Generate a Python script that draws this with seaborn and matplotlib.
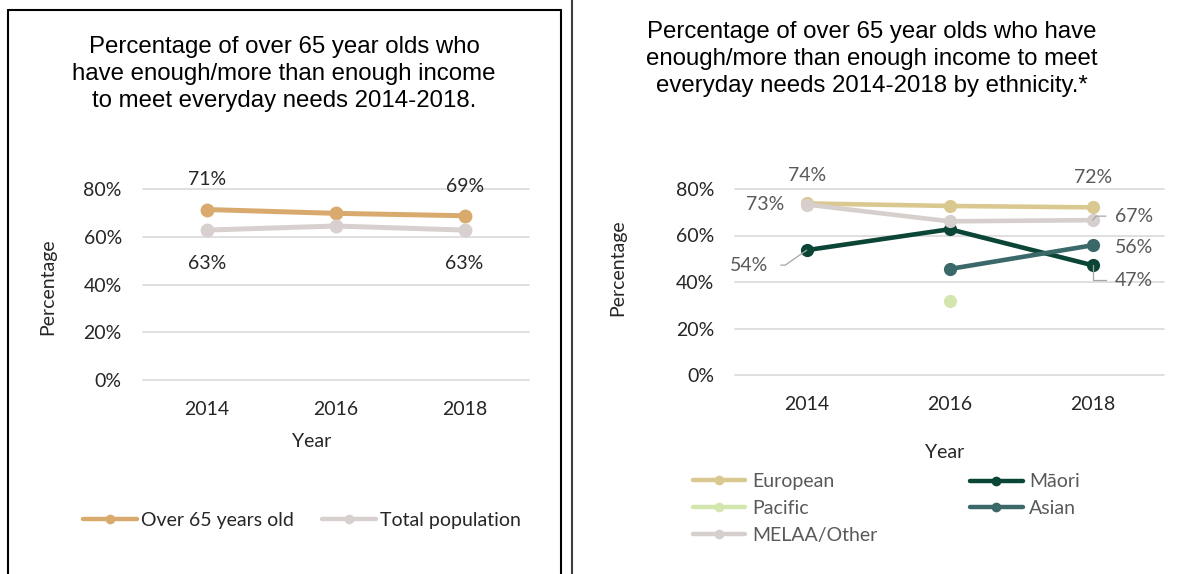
import numpy as np
import pandas as pd
import matplotlib
matplotlib.use("Agg")
import matplotlib.pyplot as plt
import seaborn as sns
from matplotlib.lines import Line2D

# ---------------- data ----------------
years = [2014, 2016, 2018]
year_labels = ["2014", "2016", "2018"]

over65 = [0.714, 0.698, 0.688]
total_pop = [0.628, 0.645, 0.628]

european = [0.738, 0.727, 0.721]
maori = [0.537, 0.627, 0.472]
pacific = [np.nan, 0.318, np.nan]
asian = [np.nan, 0.456, 0.558]
melaa = [0.733, 0.661, 0.666]

yticks = [0.0, 0.2, 0.4, 0.6, 0.8]
ytick_labels = ["0%", "20%", "40%", "60%", "80%"]

left_title = ("Percentage of over 65 year olds who\n"
              "have enough/more than enough income\n"
              "to meet everyday needs 2014-2018.")
right_title = ("Percentage of over 65 year olds who have\n"
               "enough/more than enough income to meet\n"
               "everyday needs 2014-2018 by ethnicity.*")

left_names = ["Over 65 years old", "Total population"]
right_names = ["European", "Māori", "Pacific", "Asian", "MELAA/Other"]

# ---------------- style ----------------
sns.set_theme(style="white")
plt.rcParams["font.family"] = ["Lato", "DejaVu Sans"]

c_over65 = "#D8AA6E"
c_total = "#D8D0CF"
c_eur = "#D9C990"
c_mao = "#0B4536"
c_pac = "#D3E6AE"
c_asi = "#3B6869"
c_mel = "#D6CFCD"

W, H = 1189, 574
def fx(x):
    return x / W
def fy(y):
    return 1 - y / H

fig = plt.figure(figsize=(W / 100, H / 100), dpi=100)
fig.patch.set_facecolor("white")

axL = fig.add_axes([142.7 / W, 1 - 380 / H, 386.3 / W, 191 / H])
axR = fig.add_axes([735.2 / W, 1 - 375 / H, 429 / W, 186 / H])

TXT = "#262626"
GRAY_TXT = "#595959"
FS = 14

for ax in (axL, axR):
    ax.set_xlim(2013, 2019)
    ax.set_ylim(0, 0.8)
    ax.set_yticks(yticks)
    ax.set_yticklabels(ytick_labels)
    ax.set_xticks(years)
    ax.set_xticklabels(year_labels)
    ax.grid(axis="y", color="#D9D9D9", lw=1.2)
    ax.grid(axis="x", visible=False)
    ax.set_axisbelow(True)
    for gl in ax.get_ygridlines():
        gl.set_clip_on(False)
    for s in ax.spines.values():
        s.set_visible(False)
    ax.tick_params(axis="both", length=0, labelsize=FS, labelcolor=TXT)
    ax.tick_params(axis="y", pad=15)
    ax.tick_params(axis="x", pad=15)
    ax.set_facecolor("none")

# ---------------- left chart ----------------
def draw(ax, vals, color, lw, ms):
    df = pd.DataFrame({"year": years, "value": vals}).dropna()
    sns.lineplot(data=df, x="year", y="value", ax=ax, color=color, lw=lw,
                 marker="o", markersize=ms, markeredgewidth=0,
                 legend=False, clip_on=False)

draw(axL, over65, c_over65, 3.6, 10)
draw(axL, total_pop, c_total, 3.6, 10)

def lab(ax, x, v, dx, dy, ha="center", color=TXT):
    ax.annotate(f"{v:.0%}", xy=(x, v), xytext=(dx, dy), textcoords="offset pixels",
                ha=ha, va="center", fontsize=FS, color=color)

lab(axL, years[0], over65[0], 0, 30)
lab(axL, years[2], over65[2], 0, 29)
lab(axL, years[0], total_pop[0], 0, -33)
lab(axL, years[2], total_pop[2], 0, -33)

axL.set_xlabel("Year", fontsize=FS, color=TXT)
axL.xaxis.label.set_va("center")
axL.xaxis.set_label_coords(0.4375, -0.323)
axL.set_ylabel("Percentage", fontsize=FS, color=TXT)
axL.yaxis.label.set_va("center")
axL.yaxis.set_label_coords(-0.245, 0.487)

# ---------------- right chart ----------------
draw(axR, european, c_eur, 3.3, 9.5)
draw(axR, maori, c_mao, 3.3, 9.5)
draw(axR, pacific, c_pac, 3.3, 9.5)
draw(axR, asian, c_asi, 3.3, 9.5)
draw(axR, melaa, c_mel, 3.3, 9.5)

lab(axR, years[0], european[0], 0, 28, color=GRAY_TXT)
lab(axR, years[2], european[2], 0, 30, color=GRAY_TXT)
lab(axR, years[0], melaa[0], -22, 0, ha="right", color=GRAY_TXT)
lab(axR, years[2], asian[2], 22, -2, ha="left", color=GRAY_TXT)

lead = dict(arrowstyle="-", color="#A6A6A6", lw=0.9, shrinkB=0)
axR.annotate(f"{maori[0]:.0%}", xy=(years[0], maori[0]), xytext=(-39, -15),
             textcoords="offset pixels", ha="right", va="center", fontsize=FS,
             color=GRAY_TXT,
             arrowprops=dict(lead, connectionstyle="angle,angleA=0,angleB=35,rad=0",
                             relpos=(1, 0.5), shrinkA=7))
axR.annotate(f"{melaa[2]:.0%}", xy=(years[2], melaa[2]), xytext=(22, 4),
             textcoords="offset pixels", ha="left", va="center", fontsize=FS,
             color=GRAY_TXT,
             arrowprops=dict(lead, connectionstyle="angle,angleA=180,angleB=50,rad=0",
                             relpos=(0, 0.5), shrinkA=4))
axR.annotate(f"{maori[2]:.0%}", xy=(years[2], maori[2]), xytext=(22, -15),
             textcoords="offset pixels", ha="left", va="center", fontsize=FS,
             color=GRAY_TXT,
             arrowprops=dict(lead, connectionstyle="angle,angleA=180,angleB=90,rad=0",
                             relpos=(0, 0.5), shrinkA=4))

axR.set_xlabel("Year", fontsize=FS, color=TXT)
axR.xaxis.label.set_va("center")
axR.xaxis.set_label_coords(0.489, -0.414)
axR.set_ylabel("Percentage", fontsize=FS, color=TXT)
axR.yaxis.label.set_va("center")
axR.yaxis.set_label_coords(-0.2737, 0.575)

# ---------------- legends ----------------
def handle(c):
    return Line2D([], [], color=c, lw=3.2, marker="o", markersize=7,
                  markeredgewidth=0, solid_capstyle="round")

def legend_at(handles, labels, x, y, color, hl, htp, ls=0.5):
    return fig.legend(handles, labels, loc="center left",
                      bbox_to_anchor=(fx(x), fy(y)), bbox_transform=fig.transFigure,
                      frameon=False, fontsize=FS, handlelength=hl,
                      handletextpad=htp, borderpad=0, borderaxespad=0,
                      labelspacing=ls, labelcolor=color)

legend_at([handle(c_over65)], [left_names[0]], 82.7, 520.7, TXT, 2.8, 0.2)
legend_at([handle(c_total)], [left_names[1]], 321.7, 520.7, TXT, 2.8, 0.2)

legend_at([handle(c_eur), handle(c_pac), handle(c_mel)],
          [right_names[0], right_names[2], right_names[4]],
          692.7, 508.3, GRAY_TXT, 2.7, 0.35)
legend_at([handle(c_mao), handle(c_asi)],
          [right_names[1], right_names[3]],
          970, 495.3, GRAY_TXT, 2.7, 0.35)

# ---------------- titles ----------------
fig.text(fx(284), fy(74), left_title, ha="center", va="center", fontsize=17.3,
         family="Liberation Sans", color="black", linespacing=1.3)
fig.text(fx(872), fy(59), right_title, ha="center", va="center", fontsize=17.3,
         family="Liberation Sans", color="black", linespacing=1.3)

# ---------------- frames ----------------
fig.add_artist(Line2D([fx(7.5), fx(7.5)], [fy(575), fy(10)], color="black", lw=1.5))
fig.add_artist(Line2D([fx(7.5), fx(560.7)], [fy(10), fy(10)], color="black", lw=1.5))
fig.add_artist(Line2D([fx(560.7), fx(560.7)], [fy(10), fy(575)], color="black", lw=1.5))
fig.add_artist(Line2D([fx(572.3), fx(572.3)], [fy(-1), fy(575)], color="#404040", lw=1.5))

fig.savefig("out.png", dpi=100, facecolor="white")
